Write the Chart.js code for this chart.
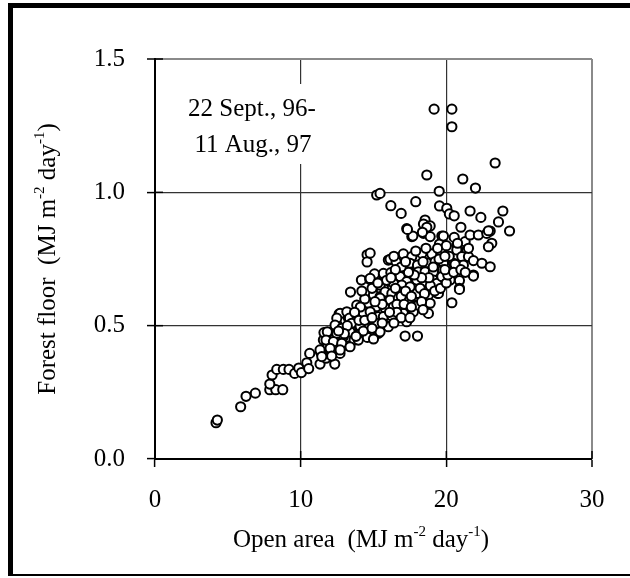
<!DOCTYPE html>
<html>
<head>
<meta charset="utf-8">
<script src="https://cdn.jsdelivr.net/npm/chart.js@4"></script>
<style>
  html, body { margin: 0; padding: 0; background: #fff; overflow: hidden; }
  #wrap { position: relative; width: 630px; height: 578px; }
  #frame {
    position: absolute; left: 8px; top: 3px; width: 640px; height: 566px;
    border-left: 5px solid #000; border-top: 5px solid #000; border-bottom: 2px solid #000;
  }
  canvas { position: absolute; left: 0; top: 0; }
</style>
</head>
<body>
<div id="wrap">
  <div id="frame"></div>
  <canvas id="chart" width="630" height="578"></canvas>
</div>
<script>
// ticks
const xTicks = [0, 10, 20, 30];
const yTicks = [0.0, 0.5, 1.0, 1.5];

// open area radiation (MJ m-2 day-1)
const openArea = [
  // low tail
  4.19, 4.28, 5.88, 6.25, 6.89, 7.88, 8.29, 8.77, 7.88, 8.04, 8.36, 8.81, 9.2, 9.59, 9.87, 10.05,
  10.42, 10.55, 10.62, 11.33, 11.36, 11.74, 12.09, 12.34, 12.7, 11.56, 11.86, 11.6, 11.93, 12.13,
  12.48, 12.36, 12.8, 12.93, 13.35, 12.64, 13.28, 13.42, 13.44, 13.67, 13.85, 14.08, 14.17, 14.56,
  14.56, 14.74, 15.07, 15.02, 14.54,
  // middle
  16.02, 15.68, 14.77, 15.68, 15.0, 15.45, 15.91, 14.65, 15.18, 15.8, 12.71, 13.17, 14.31, 14.77,
  15.34, 12.48, 13.35, 13.85, 12.36, 12.82, 13.5, 14.08, 15.18, 15.8, 11.83, 12.48, 13.39, 14.77,
  15.34, 11.74, 12.25, 12.82, 13.39, 13.96, 14.58, 11.33, 12.02, 12.71, 11.45, 12.13,
  // core
  17.63, 18.43, 18.89, 19.69, 19.53, 20.54, 20.72, 21.29, 21.63, 22.2, 22.78, 23.12, 22.89, 20.72,
  21.41, 21.06, 21.52, 17.05, 17.63, 18.32, 19.0, 16.14, 16.55, 17.51, 18.02, 18.66, 19.23, 19.8,
  20.49, 21.17, 21.86, 22.44, 23.01, 15.68, 16.19, 16.83, 17.63, 18.08, 18.54, 19.11, 19.75, 20.38,
  20.95, 21.86, 17.28, 17.97, 18.66, 19.11, 19.57, 20.26, 20.9, 15.45, 16.37, 16.94, 17.51, 18.43,
  19.69, 20.9, 15.8, 16.26, 16.83, 17.97, 18.77, 19.39, 15.45, 16.14, 16.71, 17.4, 17.97, 18.89,
  20.38, 16.37, 17.05, 17.74, 18.77, 15.68, 16.26, 17.28, 16.02, 15.45, 17.17, 18.02,
  15.22, 17.05, 17.28, 18.08, 19.46, 19.35, 19.69, 20.9, 21.86,
  // dense centre, estimated
  16.5, 16.9, 17.2, 17.6, 18.2, 18.5, 18.9, 19.2, 19.6, 20.0, 20.1, 19.9, 18.8, 18.3, 17.8, 17.4,
  16.9, 16.5, 17.2, 18.4, 19.1, 19.5, 20.2, 20.6, 20.5, 21.0, 21.3, 15.9, 16.2, 16.6, 17.1, 17.6,
  18.3, 18.4, 16.6, 16.9, 17.5, 16.1, 15.6, 15.1, 14.4, 14.1, 13.7, 14.0, 14.4, 14.9, 13.2, 13.0,
  14.3, 14.9, 15.6, 16.4, 15.0, 13.8, 12.6, 14.2, 14.9, 15.3, 16.4, 17.9, 18.6, 19.4, 19.9, 20.0,
  // upper
  19.16, 20.38, 20.38, 23.35, 18.66, 21.13, 22.0, 19.51, 17.9, 16.19, 16.9, 19.53, 20.03, 20.21,
  20.54, 21.63, 22.37, 23.88, 23.58, 24.34, 23.01, 21.0, 18.54, 18.43, 18.89, 18.66, 17.28, 18.36,
  17.7, 19.8, 15.22, 15.45, 17.33, 22.89, 20.77, 21.52, 14.77
];

// forest floor radiation (MJ m-2 day-1), same order as openArea
const forestFloor = [
  // low tail
  0.136, 0.146, 0.196, 0.235, 0.247, 0.26, 0.26, 0.26, 0.281, 0.315, 0.336, 0.336, 0.336, 0.321, 0.341, 0.324,
  0.361, 0.339, 0.396, 0.356, 0.401, 0.378, 0.396, 0.356, 0.396, 0.446, 0.425, 0.474, 0.474, 0.446,
  0.505, 0.454, 0.421, 0.459, 0.424, 0.544, 0.528, 0.626, 0.484, 0.446, 0.577, 0.471, 0.671, 0.766,
  0.739, 0.674, 0.694, 0.646, 0.496,
  // middle
  0.746, 0.692, 0.677, 0.649, 0.616, 0.609, 0.596, 0.584, 0.571, 0.565, 0.546, 0.552, 0.546, 0.552,
  0.534, 0.528, 0.528, 0.521, 0.502, 0.49, 0.509, 0.499, 0.502, 0.502, 0.477, 0.471, 0.477, 0.465,
  0.471, 0.446, 0.44, 0.434, 0.421, 0.446, 0.456, 0.409, 0.415, 0.409, 0.384, 0.386,
  // core
  0.834, 0.846, 0.834, 0.836, 0.806, 0.831, 0.802, 0.815, 0.84, 0.84, 0.846, 0.809, 0.796, 0.784,
  0.784, 0.759, 0.759, 0.769, 0.759, 0.771, 0.769, 0.749, 0.74, 0.734, 0.727, 0.736, 0.74, 0.734,
  0.734, 0.727, 0.744, 0.734, 0.721, 0.696, 0.699, 0.684, 0.696, 0.702, 0.702, 0.702, 0.709, 0.702,
  0.696, 0.69, 0.665, 0.671, 0.665, 0.671, 0.665, 0.671, 0.669, 0.652, 0.659, 0.652, 0.646, 0.649,
  0.652, 0.64, 0.627, 0.621, 0.627, 0.621, 0.615, 0.621, 0.603, 0.596, 0.603, 0.59, 0.577, 0.584,
  0.586, 0.571, 0.559, 0.552, 0.546, 0.534, 0.536, 0.521, 0.496, 0.477, 0.461, 0.461,
  0.509, 0.546, 0.515, 0.577, 0.621, 0.659, 0.684, 0.636, 0.686,
  // dense centre, estimated
  0.64, 0.61, 0.63, 0.61, 0.64, 0.62, 0.65, 0.63, 0.64, 0.66, 0.69, 0.71, 0.68, 0.68, 0.69, 0.7,
  0.72, 0.71, 0.74, 0.74, 0.72, 0.75, 0.76, 0.73, 0.7, 0.71, 0.7, 0.67, 0.68, 0.58, 0.58, 0.57,
  0.59, 0.56, 0.55, 0.53, 0.53, 0.55, 0.58, 0.59, 0.6, 0.57, 0.55, 0.52, 0.52, 0.53, 0.5, 0.47,
  0.48, 0.49, 0.51, 0.51, 0.45, 0.46, 0.48, 0.63, 0.64, 0.66, 0.76, 0.78, 0.79, 0.79, 0.76, 0.8,
  // upper
  1.312, 1.312, 1.246, 1.11, 1.065, 1.05, 1.016, 1.004, 0.965, 0.95, 0.921, 0.949, 0.94, 0.919,
  0.912, 0.93, 0.906, 0.93, 0.889, 0.855, 0.855, 0.869, 0.896, 0.881, 0.874, 0.869, 0.864, 0.85,
  0.836, 0.836, 0.99, 0.996, 0.861, 0.856, 0.809, 0.79, 0.772
];

const periodLines = ['22 Sept., 96-', '11 Aug., 97'];
const xTitle = [['Open area  (MJ m', false], ['-2', true], [' day', false], ['-1', true], [')', false]];
const yTitle = [['Forest floor  (MJ m', false], ['-2', true], [' day', false], ['-1', true], [')', false]];

const points = openArea.map((x, i) => ({ x: x, y: forestFloor[i] }));

const FONT = '"Liberation Serif", "Times New Roman", serif';

// draws a line of text with superscripts, centred on x
function drawRich(ctx, parts, x, y) {
  let total = 0;
  parts.forEach(p => {
    ctx.font = (p[1] ? '15px ' : '25px ') + FONT;
    total += ctx.measureText(p[0]).width;
  });
  let cx = x - total / 2;
  parts.forEach(p => {
    ctx.font = (p[1] ? '15px ' : '25px ') + FONT;
    ctx.fillText(p[0], cx, p[1] ? y - 11 : y);
    cx += ctx.measureText(p[0]).width;
  });
}

const labelsPlugin = {
  id: 'labels',
  beforeDatasetsDraw(chart) {
    const ctx = chart.ctx;
    const area = chart.chartArea;
    const xs = chart.scales.x, ys = chart.scales.y;
    ctx.save();
    // inner half of the crossing tick marks
    ctx.strokeStyle = '#000';
    ctx.lineWidth = 1.5;
    yTicks.forEach(v => {
      const py = ys.getPixelForValue(v);
      ctx.beginPath(); ctx.moveTo(area.left, py); ctx.lineTo(area.left + 8, py); ctx.stroke();
    });
    xTicks.forEach(v => {
      const px = xs.getPixelForValue(v);
      ctx.beginPath(); ctx.moveTo(px, area.bottom); ctx.lineTo(px, area.bottom - 8); ctx.stroke();
    });
    // period note on a white box
    ctx.fillStyle = '#fff';
    ctx.fillRect(182, 84, 142, 80);
    ctx.fillStyle = '#000';
    ctx.font = '25px ' + FONT;
    ctx.textAlign = 'center';
    ctx.textBaseline = 'alphabetic';
    ctx.fillText(periodLines[0], 252, 116);
    ctx.fillText(periodLines[1], 253, 152);
    ctx.restore();
  },
  afterDraw(chart) {
    const ctx = chart.ctx;
    ctx.save();
    ctx.fillStyle = '#000';
    ctx.textAlign = 'left';
    ctx.textBaseline = 'alphabetic';
    drawRich(ctx, xTitle, 361, 547);
    ctx.translate(55, 259);
    ctx.rotate(-Math.PI / 2);
    drawRich(ctx, yTitle, 0, 0);
    ctx.restore();
  }
};

new Chart(document.getElementById('chart'), {
  type: 'scatter',
  data: {
    datasets: [{
      data: points,
      pointRadius: 4.6,
      pointHoverRadius: 4.6,
      pointBorderWidth: 2,
      borderColor: '#000',
      backgroundColor: '#fff'
    }]
  },
  options: {
    responsive: false,
    animation: false,
    devicePixelRatio: 1,
    layout: { padding: { left: 0, top: 59, right: 38, bottom: 0 } },
    plugins: { legend: { display: false }, tooltip: { enabled: false } },
    scales: {
      x: {
        min: 0, max: 30,
        afterFit: s => { s.height = 119; },
        afterBuildTicks: s => { s.ticks = xTicks.map(v => ({ value: v })); },
        ticks: { color: '#000', font: { family: FONT, size: 25 }, padding: 18, maxRotation: 0 },
        grid: {
          color: c => c.tick && c.tick.value === 30 ? '#8a8a8a' : '#333',
          lineWidth: c => c.tick && c.tick.value === 30 ? 2 : 1.2,
          tickColor: '#000', tickLength: 8, tickWidth: 1.5
        },
        border: { color: '#000', width: 2 }
      },
      y: {
        min: 0, max: 1.5,
        afterFit: s => { s.width = 155; },
        afterBuildTicks: s => { s.ticks = yTicks.map(v => ({ value: v })); },
        ticks: { color: '#000', font: { family: FONT, size: 25 }, padding: 22, callback: v => v.toFixed(1) },
        grid: {
          color: c => c.tick && c.tick.value === 1.5 ? '#8a8a8a' : '#333',
          lineWidth: c => c.tick && c.tick.value === 1.5 ? 2 : 1.2,
          tickColor: '#000', tickLength: 8, tickWidth: 1.5
        },
        border: { color: '#000', width: 2 }
      }
    }
  },
  plugins: [labelsPlugin]
});
</script>
</body>
</html>
